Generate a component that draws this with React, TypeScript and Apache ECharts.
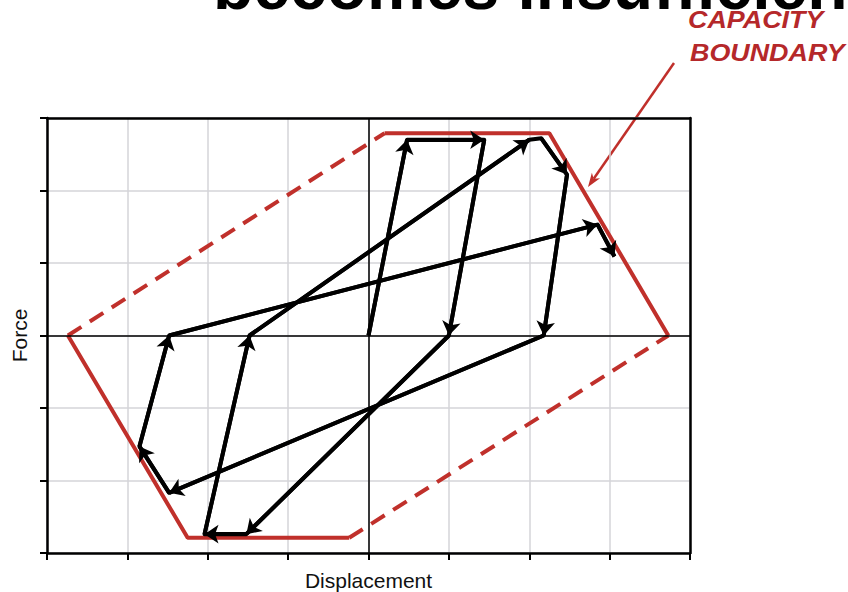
import React, { useEffect, useRef } from "react";
import * as echarts from "echarts";

// Load path (hysteresis response), in displacement / force units
const pathX = [0, 0.48, 1.44, 1.0, -1.52, -2.04, -1.48, 2.0, 2.15, 2.47, 2.18, -2.48, -2.85, -2.48, 2.85, 3.06];
const pathY = [0, 2.7, 2.7, 0, -2.74, -2.74, 0, 2.7, 2.72, 2.22, 0, -2.17, -1.53, 0, 1.53, 1.09];
// segments (ending at index) that carry an arrowhead
const arrowEnds = [1, 2, 3, 4, 5, 6, 7, 9, 10, 11, 12, 13, 14, 15];

// Capacity boundary
const capUpperX = [0.2, 2.25, 3.73];
const capUpperY = [2.79, 2.79, 0];
const capLowerX = [-3.74, -2.25, -0.24];
const capLowerY = [0, -2.79, -2.79];
const capDashUpperX = [-3.74, 0.2];
const capDashUpperY = [0, 2.79];
const capDashLowerX = [-0.24, 3.73];
const capDashLowerY = [-2.79, 0];

const RED = "#c0302b";

function zip(xs: number[], ys: number[]) {
  return xs.map((x, i) => [x, ys[i]]);
}

const frameAxis = {
  type: "value",
  axisLine: { show: true, onZero: false, lineStyle: { color: "#000", width: 2.5 } },
  axisTick: { show: false },
  axisLabel: { show: false },
  splitLine: { show: false },
};

export default function App() {
  const ref = useRef<HTMLDivElement>(null);
  useEffect(() => {
    if (!ref.current) return;
    const chart = echarts.init(ref.current, undefined, { renderer: "svg" });
    const tip = [588, 187];
    const ux = -0.57, uy = 0.82;
    const px = 0.82, py = 0.57;
    const bx = tip[0] - 14 * ux, by = tip[1] - 14 * uy;
    const nx = tip[0] - 10 * ux, ny = tip[1] - 10 * uy;
    chart.setOption({
      animation: false,
      backgroundColor: "#fff",
      grid: {
        left: 47,
        top: 118,
        right: 158,
        bottom: 39,
        containLabel: false,
        outerBoundsMode: "none",
      },
      xAxis: [
        {
          type: "value",
          min: -4,
          max: 4,
          interval: 1,
          name: "Displacement",
          nameLocation: "middle",
          nameGap: 17,
          nameTextStyle: { fontFamily: "Liberation Sans", fontSize: 21, color: "#111" },
          axisLine: { show: true, onZero: false, lineStyle: { color: "#000", width: 2.5 } },
          axisTick: { show: true, length: 7, lineStyle: { color: "#000", width: 2 } },
          axisLabel: { show: false },
          splitLine: { show: true, lineStyle: { color: "#d4d4d8", width: 1.5 } },
        },
        { ...frameAxis, position: "top", min: -4, max: 4, interval: 1 },
      ],
      yAxis: [
        {
          type: "value",
          min: -3,
          max: 3,
          interval: 1,
          name: "Force",
          nameLocation: "middle",
          nameGap: 17,
          nameTextStyle: { fontFamily: "Liberation Sans", fontSize: 21, color: "#111" },
          axisLine: { show: true, onZero: false, lineStyle: { color: "#000", width: 2.5 } },
          axisTick: { show: true, length: 7, lineStyle: { color: "#000", width: 2 } },
          axisLabel: { show: false },
          splitLine: { show: true, lineStyle: { color: "#d4d4d8", width: 1.5 } },
        },
        { ...frameAxis, position: "right", min: -3, max: 3, interval: 1 },
      ],
      graphic: [
        {
          type: "text",
          x: 213,
          y: -14,
          z: 1,
          style: {
            text: "becomes insufficient",
            fontFamily: "Liberation Sans",
            fontWeight: "bold",
            fontSize: 66,
            fill: "#000",
            textVerticalAlign: "middle",
          },
        },
        {
          type: "text",
          x: 688,
          y: 20,
          z: 5,
          scaleX: 1.12,
          style: {
            text: "CAPACITY",
            fontFamily: "Liberation Sans",
            fontWeight: "bold",
            fontStyle: "italic",
            fontSize: 24,
            fill: "#b5282a",
            textVerticalAlign: "middle",
          },
        },
        {
          type: "text",
          x: 690,
          y: 53,
          z: 5,
          scaleX: 1.12,
          style: {
            text: "BOUNDARY",
            fontFamily: "Liberation Sans",
            fontWeight: "bold",
            fontStyle: "italic",
            fontSize: 24,
            fill: "#b5282a",
            textVerticalAlign: "middle",
          },
        },
        {
          type: "line",
          shape: { x1: 674, y1: 63, x2: nx, y2: ny },
          style: { stroke: RED, lineWidth: 2.5 },
        },
        {
          type: "polygon",
          shape: {
            points: [
              [tip[0], tip[1]],
              [bx + 5 * px, by + 5 * py],
              [nx, ny],
              [bx - 5 * px, by - 5 * py],
            ],
          },
          style: { fill: RED },
        },
      ],
      series: [
        {
          type: "line",
          data: zip(capDashUpperX, capDashUpperY),
          showSymbol: false,
          silent: true,
          lineStyle: { color: RED, width: 4, type: [16, 10] },
          markLine: {
            silent: true,
            symbol: "none",
            label: { show: false },
            lineStyle: { color: "#000", width: 1.5, type: "solid" },
            data: [{ xAxis: 0 }, { yAxis: 0 }],
          },
          z: 2,
        },
        {
          type: "line",
          data: zip(capDashLowerX, capDashLowerY),
          showSymbol: false,
          silent: true,
          lineStyle: { color: RED, width: 4, type: [16, 10] },
          z: 2,
        },
        {
          type: "line",
          data: zip(capUpperX, capUpperY),
          showSymbol: false,
          silent: true,
          lineStyle: { color: RED, width: 4 },
          z: 2,
        },
        {
          type: "line",
          data: zip(capLowerX, capLowerY),
          showSymbol: false,
          silent: true,
          lineStyle: { color: RED, width: 4 },
          z: 2,
        },
        {
          type: "line",
          data: zip(pathX, pathY),
          showSymbol: false,
          silent: true,
          lineStyle: { color: "#000", width: 4, join: "round" },
          z: 3,
        },
        {
          type: "lines",
          coordinateSystem: "cartesian2d",
          silent: true,
          symbol: ["none", "arrow"],
          symbolSize: 14,
          lineStyle: { color: "#000", width: 4, opacity: 1 },
          data: arrowEnds.map((i) => ({
            coords: [
              [pathX[i - 1], pathY[i - 1]],
              [pathX[i], pathY[i]],
            ],
          })),
          z: 4,
        },
      ],
    });
    return () => chart.dispose();
  }, []);
  return (
    <div
      ref={ref}
      style={{ position: "absolute", left: 0, top: 0, width: 848, height: 592 }}
    />
  );
}
